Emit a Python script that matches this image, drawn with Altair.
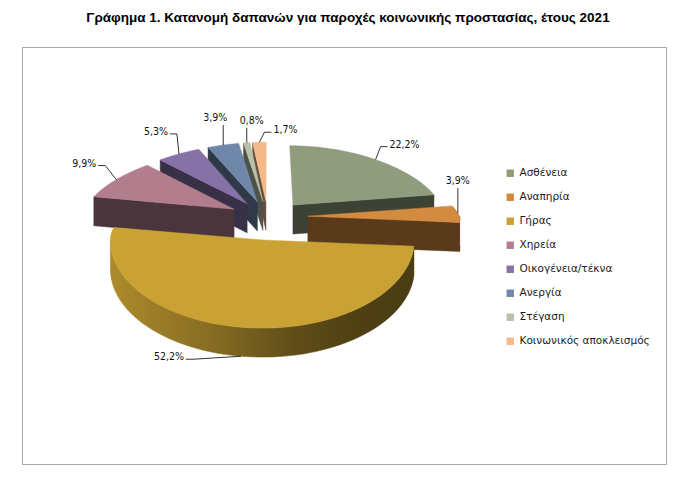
import math

import altair as alt
import pandas as pd

chart_title = "Γράφημα 1. Κατανομή δαπανών για παροχές κοινωνικής προστασίας, έτους 2021"
categories = ["Ασθένεια", "Αναπηρία", "Γήρας", "Χηρεία", "Οικογένεια/τέκνα",
              "Ανεργία", "Στέγαση", "Κοινωνικός αποκλεισμός"]
shares = [22.2, 3.9, 52.2, 9.9, 5.3, 3.9, 0.8, 1.7]

# styling, kept apart from the data
colors = ["#8f9c7d", "#d38b40", "#c9a233", "#b27e8e", "#8672a7", "#6f87a8", "#b9c2a9", "#f2b98a"]
label_dx = [29, 0, -72, -32, -23, -8, 5, 26]
label_dy = [-15, -32, 1, -16, -22, -27, -22, -12]

TITLE_FONT = "Liberation Sans, sans-serif"
LABEL_FONT = "DejaVu Sans Condensed, DejaVu Sans, sans-serif"
LEGEND_FONT = "DejaVu Sans, sans-serif"

# tilted pie geometry (page pixels)
CX, CY = 268, 217
R = 152
KB, KF = 0.39, 0.58   # vertical squash of back / front half (fake perspective)
PERSP = 0.001         # back half drawn a bit narrower
EXPL = 40             # explosion distance
DEPTH = 29            # thickness of the pie
N = 60                # points per arc

df = pd.DataFrame({"cat": categories, "share": shares, "idx": list(range(len(shares))),
                   "ldx": label_dx, "ldy": label_dy})

xs = alt.Scale(domain=[22, 666], nice=False, zero=False)
ys = alt.Scale(domain=[47, 464], nice=False, zero=False, reverse=True)
X = alt.X("x:Q", scale=xs, axis=None)
Y = alt.Y("y:Q", scale=ys, axis=None)
cscale = alt.Scale(domain=categories, range=colors)
legend = alt.Legend(
    orient="none", legendX=483, legendY=121, symbolType="square", symbolSize=55,
    symbolStrokeWidth=0, labelFont=LEGEND_FONT, labelFontSize=10.5,
    labelColor="#1a1a1a", rowPadding=13, labelLimit=300)


def shade(hexcol, f):
    r, g, b = (int(hexcol[i:i + 2], 16) for i in (1, 3, 5))
    return "#%02x%02x%02x" % (round(r * f), round(g * f), round(b * f))


def k(a):
    return f"(cos({a}) > 0 ? {KB} : {KF})"


def px(a, r):
    depth = f"max(0, {EXPL} * cos(datum.am) + ({r}) * cos({a}))"
    return f"({CX} + (datum.ex + ({r}) * sin({a})) / (1 + {PERSP} * {depth}))"


def py(a, r):
    return f"({CY} + datum.ey - ({r}) * cos({a}) * {k(a)})"


def base(name=None):
    c = alt.Chart(df).transform_window(
        cum="sum(share)", sort=[alt.SortField("idx")]
    ).transform_joinaggregate(tot="sum(share)").transform_calculate(
        a0="(datum.cum - datum.share) / datum.tot * 2 * PI",
        a1="datum.cum / datum.tot * 2 * PI",
    ).transform_calculate(am="(datum.a0 + datum.a1) / 2").transform_calculate(
        ex=f"{EXPL} * sin(datum.am)",
        ey=f"-{EXPL} * cos(datum.am) * {k('datum.am')}",
    )
    if name is not None:
        c = c.transform_filter(alt.datum.cat == name)
    return c


def top_face(name):
    t = f"(datum.a0 + (datum.a1 - datum.a0) * (datum.s - 1) / {N})"
    return base(name).transform_calculate(s=f"sequence(0, {N + 2})").transform_flatten(
        ["s"]).transform_calculate(
        x=f"datum.s == 0 ? {px('datum.a0', 0)} : {px(t, R)}",
        y=f"datum.s == 0 ? {py('datum.a0', 0)} : {py(t, R)}",
    ).mark_line(interpolate="linear-closed", strokeWidth=0.5).encode(
        x=X, y=Y, order="s:Q",
        fill=alt.Fill("cat:N", scale=cscale, title=None, legend=legend),
        stroke=alt.Stroke("cat:N", scale=cscale, legend=None),
    )


def curved_side(name, fill):
    t = (f"datum.s <= {N} ? datum.b0 + (datum.b1 - datum.b0) * datum.s / {N}"
         f" : datum.b1 - (datum.b1 - datum.b0) * (datum.s - {N + 1}) / {N}")
    return base(name).transform_calculate(
        b0="max(datum.a0, PI / 2)", b1="min(datum.a1, 3 * PI / 2)",
    ).transform_filter("datum.b1 > datum.b0").transform_calculate(
        s=f"sequence(0, {2 * N + 2})").transform_flatten(["s"]).transform_calculate(
        t=t).transform_calculate(
        x=px("datum.t", R),
        y=f"{py('datum.t', R)} + (datum.s > {N} ? {DEPTH} : 0)",
    ).mark_line(interpolate="linear-closed", fill=fill, stroke=fill, strokeWidth=0.5).encode(
        x=X, y=Y, order="s:Q")


def radial_faces(name, fill):
    return base(name).transform_calculate(f="[0, 1]").transform_flatten(
        ["f"]).transform_calculate(
        A="datum.f == 0 ? datum.a0 : datum.a1").transform_filter(
        "datum.f == 0 ? sin(datum.A) < -0.001 : sin(datum.A) > 0.001").transform_calculate(
        s="sequence(0, 4)").transform_flatten(["s"]).transform_calculate(
        x=f"datum.s == 0 || datum.s == 3 ? {px('datum.A', 0)} : {px('datum.A', R)}",
        y=f"(datum.s == 0 || datum.s == 3 ? {py('datum.A', 0)} : {py('datum.A', R)})"
          f" + (datum.s >= 2 ? {DEPTH} : 0)",
    ).mark_line(interpolate="linear-closed", fill=fill, stroke=fill, strokeWidth=0.5).encode(
        x=X, y=Y, order="s:Q", detail="f:N")


def anchored():
    # label anchor: rim point at the slice's mid angle (bottom edge for the front slice)
    return base().transform_calculate(
        ax=px("datum.am", R),
        ay=f"{py('datum.am', R)} + (cos(datum.am) < -0.5 ? {DEPTH} : 0)",
        txt="replace(format(datum.share, '.1f'), '.', ',') + '%'",
    ).transform_calculate(lx="datum.ax + datum.ldx", ly="datum.ay + datum.ldy")


# draw slices from the back to the front
tot = sum(shares)
bounds, cum = [], 0.0
for v in shares:
    bounds.append((cum / tot * 2 * math.pi, (cum + v) / tot * 2 * math.pi))
    cum += v
draw_order = sorted(range(len(shares)), key=lambda i: -math.cos(sum(bounds[i]) / 2))

layers = []
for i in draw_order:
    name, col = categories[i], colors[i]
    layers.append(radial_faces(name, shade(col, 0.42)))
    lo, hi = max(bounds[i][0], math.pi / 2), min(bounds[i][1], 1.5 * math.pi)
    if hi - lo > 0.001:
        if hi - lo > math.pi / 4:
            side_fill = alt.LinearGradient(
                gradient="linear", x1=0, x2=1, y1=0, y2=0,
                stops=[alt.GradientStop(color=shade(col, f), offset=o)
                       for o, f in [(0, 0.86), (0.35, 0.66), (0.6, 0.48), (0.8, 0.4), (1, 0.37)]])
        else:
            side_fill = shade(col, 0.4)
        layers.append(curved_side(name, side_fill))
    layers.append(top_face(name))

leaders = anchored().transform_calculate(
    sgn="datum.ldx > 15 ? 1 : (datum.ldx < -15 ? -1 : 0)",
    hw="length(datum.txt) * 3 + 2",
).transform_calculate(p="sequence(0, 3)").transform_flatten(["p"]).transform_calculate(
    x="datum.p == 2 || datum.sgn == 0 ? datum.ax"
      " : datum.lx - datum.sgn * (datum.hw + (datum.p == 1 ? 7 : 0))",
    y="datum.p == 2 ? datum.ay : (datum.sgn == 0 ? datum.ly + 7 : datum.ly + 2)",
).mark_line(stroke="#000000", strokeWidth=0.8).encode(
    x=X, y=Y, order="p:Q", detail="cat:N")

labels = anchored().mark_text(font=LABEL_FONT, fontSize=10.5, color="#111111").encode(
    x=alt.X("lx:Q", scale=xs, axis=None),
    y=alt.Y("ly:Q", scale=ys, axis=None),
    text="txt:N",
)

chart = alt.layer(*layers, leaders, labels).properties(
    width=644, height=417,
    title=alt.TitleParams(chart_title, font=TITLE_FONT, fontSize=13.5, fontWeight="bold",
                          anchor="middle", dx=4, offset=23, color="#000000"),
    autosize=alt.AutoSizeParams(type="none"),
    padding={"left": 14, "top": 39, "right": 10, "bottom": 10},
).configure_view(stroke="#a6a6a6", strokeWidth=1)

chart.save("out.html", embed_options={"renderer": "svg", "actions": False})
